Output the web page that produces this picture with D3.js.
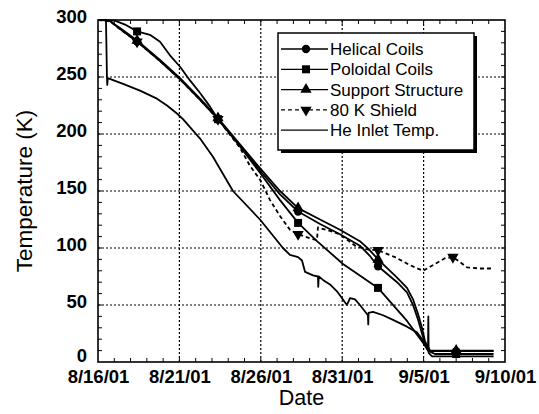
<!DOCTYPE html>
<html>
<head>
<meta charset="utf-8">
<script src="https://cdn.jsdelivr.net/npm/d3@7"></script>
<style>
  body { margin: 0; background: #fff; }
  svg { display: block; font-family: "Liberation Sans", Arial, sans-serif; }
</style>
</head>
<body>
<div id="chart"></div>
<script>
const { d3 } = window;

// days are counted from 8/16/01
const START = new Date(2001, 7, 16);
const xTickDays = [0, 5, 10, 15, 20, 25];
const xTickLabels = ['8/16/01', '8/21/01', '8/26/01', '8/31/01', '9/5/01', '9/10/01'];
const yTicks = [0, 50, 100, 150, 200, 250, 300];

const helical = [[0, 300], [0.4, 300], [0.74, 299], [1.35, 292], [2.4, 281], [3.81, 264], [5.04, 248], [6.27, 230],
  [7.37, 213], [8.72, 190], [9.95, 168], [11.18, 147], [12.29, 132], [13.64, 121], [14.86, 112], [16.09, 102],
  [16.7, 93], [17.2, 84], [18.37, 70], [18.98, 61], [19.35, 50], [19.66, 37], [19.9, 25], [20.09, 16], [20.4, 9.5],
  [24.3, 9.5]];
const poloidal = [[0, 300], [1.04, 299.5], [1.66, 296], [2.4, 290], [3.19, 287], [3.81, 281], [4.42, 269], [5.04, 259],
  [5.65, 247], [6.27, 236], [6.88, 224], [7.37, 213], [8.72, 189], [9.95, 166], [11.18, 142], [12.29, 122],
  [13.45, 106], [15.05, 86], [17.2, 65], [18.98, 36], [19.96, 17], [20.27, 10], [20.7, 7], [24.3, 7]];
const support = [[0, 300], [0.4, 300], [0.74, 299], [1.35, 293], [2.4, 282], [3.81, 265], [5.04, 249], [6.27, 231],
  [7.37, 214], [8.72, 191], [9.95, 170], [11.18, 150], [12.29, 135], [13.64, 125], [14.86, 116], [16.09, 106],
  [16.7, 98], [17.2, 90], [18.37, 74], [18.98, 65], [19.35, 55], [19.66, 42], [19.9, 30], [20.09, 18], [20.4, 10],
  [24.3, 10]];
const shield = [[0, 300], [0.74, 299], [1.35, 292], [2.4, 281], [3.81, 264], [5.04, 248], [6.27, 230], [7.37, 213],
  [8.72, 188], [9.34, 172], [9.95, 160], [10.57, 142], [11.18, 128], [11.79, 116], [12.29, 112], [13.14, 108],
  [13.45, 107], [13.51, 118], [14.25, 115], [14.86, 112], [15.79, 102], [16.4, 99], [17.2, 98], [18.24, 92],
  [19.16, 85], [19.96, 80], [20.7, 86], [21.31, 91], [21.8, 92], [22.2, 88], [22.67, 83], [23.46, 82], [24.3, 82]];
const heInlet = [[0, 300], [0.49, 300], [0.55, 250], [0.57, 243], [0.6, 249], [1.54, 244], [2.58, 238], [3.62, 231],
  [4.24, 225], [4.85, 218], [5.22, 213], [5.65, 206], [6.27, 196], [7.06, 180], [8.29, 150], [9.95, 125],
  [11.36, 100], [11.79, 94], [12.29, 92], [12.53, 89], [12.72, 79], [13.21, 76], [13.51, 75], [13.53, 66],
  [13.56, 75], [13.82, 72], [14.25, 68], [14.68, 62], [15.29, 50], [15.48, 56], [15.79, 55], [16.09, 50],
  [16.58, 41], [16.6, 33], [16.62, 43], [16.89, 44], [17.51, 41], [18.12, 37], [18.98, 31], [19.59, 26],
  [19.96, 19], [20.15, 14], [20.27, 10], [20.29, 40], [20.31, 8], [20.52, 5], [24.3, 5]];

const helicalMarks = [[2.4, 281], [7.37, 213], [12.29, 132], [17.2, 84], [22, 9.5]];
const poloidalMarks = [[2.4, 290], [7.37, 213], [12.29, 122], [17.2, 65], [22, 7]];
const supportMarks = [[2.4, 282], [7.37, 214], [12.29, 135], [17.2, 90], [22, 10]];
const shieldMarks = [[2.4, 281], [7.37, 213], [12.29, 112], [17.2, 98], [21.8, 92]];

const seriesNames = ['Helical Coils', 'Poloidal Coils', 'Support Structure', '80 K Shield', 'He Inlet Temp.'];

const W = 539;
const H = 414;
const margin = { top: 20, right: 34, bottom: 52, left: 98 };

const toDate = (d) => new Date(START.getTime() + d * 864e5);

function symbolPath(kind, size) {
  const types = { circle: d3.symbolCircle, square: d3.symbolSquare, up: d3.symbolTriangle, down: d3.symbolTriangle };
  return d3.symbol().type(types[kind]).size(size)();
}

function drawMarker(g, kind, x, y) {
  const s = { circle: 55, square: 64, up: 55, down: 55 }[kind];
  g.append('path')
    .attr('d', symbolPath(kind, s))
    .attr('transform', `translate(${x},${y})${kind === 'down' ? ' rotate(180)' : ''}`)
    .attr('fill', '#000');
}

function boot() {
  const svg = d3.select('#chart').append('svg').attr('width', W).attr('height', H);
  const iw = W - margin.left - margin.right;
  const ih = H - margin.top - margin.bottom;

  const x = d3.scaleTime().domain([toDate(0), toDate(25)]).range([0, iw]);
  const y = d3.scaleLinear().domain([0, 300]).range([ih, 0]);

  const g = svg.append('g').attr('transform', `translate(${margin.left},${margin.top})`);

  // dotted grid at major ticks
  g.append('g').selectAll('line').data(xTickDays.slice(1, -1)).join('line')
    .attr('x1', (d) => x(toDate(d))).attr('x2', (d) => x(toDate(d)))
    .attr('y1', 0).attr('y2', ih)
    .attr('stroke', '#000').attr('stroke-width', 1.2).attr('stroke-dasharray', '2,2');
  g.append('g').selectAll('line').data(yTicks.slice(1, -1)).join('line')
    .attr('y1', (d) => y(d)).attr('y2', (d) => y(d))
    .attr('x1', 0).attr('x2', iw)
    .attr('stroke', '#000').attr('stroke-width', 1.2).attr('stroke-dasharray', '2,2');

  // inward minor ticks on all sides
  const dayTicks = d3.range(1, 25);
  const tempTicks = d3.range(10, 300, 10);
  const tk = g.append('g').attr('stroke', '#000').attr('stroke-width', 1);
  dayTicks.forEach((d) => {
    const px = x(toDate(d));
    tk.append('line').attr('x1', px).attr('x2', px).attr('y1', ih).attr('y2', ih - 4);
    tk.append('line').attr('x1', px).attr('x2', px).attr('y1', 0).attr('y2', 4);
  });
  tempTicks.forEach((t) => {
    const py = y(t);
    tk.append('line').attr('x1', 0).attr('x2', 4).attr('y1', py).attr('y2', py);
    tk.append('line').attr('x1', iw).attr('x2', iw - 4).attr('y1', py).attr('y2', py);
  });

  // tick labels
  const xAxis = d3.axisBottom(x)
    .tickValues(xTickDays.map(toDate))
    .tickFormat((d, i) => xTickLabels[i])
    .tickSize(0).tickPadding(8);
  const gx = g.append('g').attr('transform', `translate(0,${ih})`).call(xAxis);
  gx.select('.domain').remove();
  gx.selectAll('text').attr('font-size', 18.5).attr('font-weight', 'bold')
    .attr('font-family', '"Liberation Sans", Arial, sans-serif').attr('fill', '#000');

  const yAxis = d3.axisLeft(y).tickValues(yTicks).tickSize(0).tickPadding(11);
  const gy = g.append('g').call(yAxis);
  gy.select('.domain').remove();
  gy.selectAll('text').attr('font-size', 18.5).attr('font-weight', 'bold')
    .attr('font-family', '"Liberation Sans", Arial, sans-serif').attr('fill', '#000')
    .attr('dy', (d) => (d === 0 ? '-0.05em' : '0.15em'));

  // curves
  const line = d3.line().x((d) => x(toDate(d[0]))).y((d) => y(d[1]));
  const series = [
    { data: helical, marks: helicalMarks, kind: 'circle', dash: null },
    { data: poloidal, marks: poloidalMarks, kind: 'square', dash: null },
    { data: support, marks: supportMarks, kind: 'up', dash: null },
    { data: shield, marks: shieldMarks, kind: 'down', dash: '4,3' },
    { data: heInlet, marks: [], kind: null, dash: null },
  ];
  series.forEach((s) => {
    g.append('path').datum(s.data).attr('d', line)
      .attr('fill', 'none').attr('stroke', '#000').attr('stroke-width', 1.8)
      .attr('stroke-linejoin', 'round')
      .attr('stroke-dasharray', s.dash);
  });
  series.forEach((s) => {
    s.marks.forEach((m) => drawMarker(g, s.kind, x(toDate(m[0])), y(m[1])));
  });

  // frame
  g.append('rect').attr('width', iw).attr('height', ih)
    .attr('fill', 'none').attr('stroke', '#000').attr('stroke-width', 1.6);

  // legend
  const lg = svg.append('g').attr('transform', 'translate(278,33)');
  lg.append('rect').attr('x', 3).attr('y', 3).attr('width', 196).attr('height', 117).attr('fill', '#000');
  lg.append('rect').attr('width', 196).attr('height', 117)
    .attr('fill', '#fff').attr('stroke', '#000').attr('stroke-width', 1.5);
  seriesNames.forEach((name, i) => {
    const ly = 16 + i * 20.3;
    const s = series[i];
    lg.append('line').attr('x1', 3).attr('x2', 50).attr('y1', ly).attr('y2', ly)
      .attr('stroke', '#000').attr('stroke-width', 1.3)
      .attr('stroke-dasharray', s.dash);
    if (s.kind) drawMarker(lg, s.kind, 28, ly);
    lg.append('text').attr('x', 52).attr('y', ly).attr('dy', '0.36em')
      .attr('font-size', 17).text(name);
  });

  // axis titles
  svg.append('text').attr('x', margin.left + iw / 2).attr('y', 405)
    .attr('text-anchor', 'middle').attr('font-size', 21.5).text('Date');
  svg.append('text').attr('transform', `translate(32,${margin.top + ih / 2}) rotate(-90)`)
    .attr('text-anchor', 'middle').attr('font-size', 22.5).text('Temperature (K)');
}

boot();
</script>
</body>
</html>
